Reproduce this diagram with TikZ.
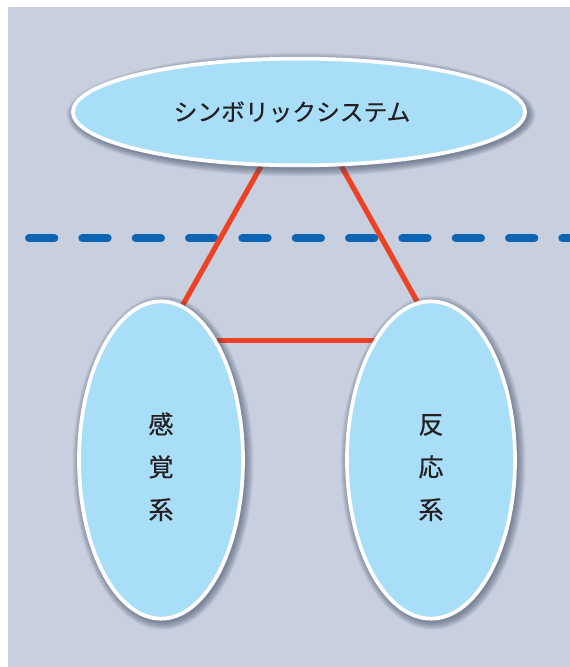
\documentclass[tikz,border=0pt]{standalone}
\usepackage{fontspec}
\newfontfamily\jpfont[FakeBold=0.5]{Noto Sans CJK JP}
\usetikzlibrary{shapes.geometric}
\definecolor{bgcol}{RGB}{200,208,223}
\definecolor{ellfill}{RGB}{169,222,248}
\definecolor{dashblue}{RGB}{12,100,178}
\definecolor{linered}{RGB}{238,66,36}
\definecolor{txtcol}{RGB}{35,31,32}
\definecolor{shadowcol}{RGB}{55,68,92}
\pgfdeclarelayer{bg}
\pgfdeclarelayer{mid}
\pgfdeclarelayer{shade}
\pgfsetlayers{bg,mid,shade,main}
\tikzset{
  oval/.style={ellipse, draw=white, line width=2.8pt, fill=ellfill, inner sep=0pt,
    text=txtcol, font=\jpfont},
  link/.style={draw=linered, line width=3.9pt},
  divider/.style={draw=dashblue, line width=6pt, line cap=round, dash pattern=on 19pt off 21pt}
}
\newcommand{\softshadow}[3]{%
  \foreach \k in {1,...,9}{
    \fill[shadowcol, opacity=0.075] ([xshift=1.5pt,yshift=-2pt]#1) ellipse [x radius={#2+0.7*\k pt}, y radius={#3+0.7*\k pt}];
  }}
\begin{document}
\begin{tikzpicture}[x=0.75pt,y=-0.75pt]
\useasboundingbox (0,0) rectangle (570,667);
\begin{pgfonlayer}{bg}
\fill[white] (0,0) rectangle (570,667);
\fill[bgcol] (8,7) rectangle (570,667);
\end{pgfonlayer}
\node[oval, minimum width=339pt, minimum height=80pt, font=\jpfont\fontsize{17.8}{20}\selectfont] (top) at (299,112) {シンボリックシステム\hspace*{10.5pt}};
\node[oval, minimum width=123pt, minimum height=238pt, align=center, font=\jpfont\fontsize{18.8}{32}\selectfont] (left) at (161,460) {\rule{0pt}{26pt}感\\覚\\系};
\node[oval, minimum width=126pt, minimum height=238pt, align=center, font=\jpfont\fontsize{18.8}{32}\selectfont] (right) at (431,460) {\rule{0pt}{26pt}反\\応\\系};
\coordinate (dl) at (29,238);
\coordinate (dr) at (580,238);
\begin{pgfonlayer}{mid}
\draw[divider] (dl) -- (dr);
\draw[link] (top.235) -- (left.82);
\draw[link] (top.308) -- (right.95);
\draw[link] (left.65) -- (left.65 -| right.115);
\end{pgfonlayer}
\begin{pgfonlayer}{shade}
\softshadow{top.center}{169.5pt}{40pt}
\softshadow{left.center}{61.5pt}{119pt}
\softshadow{right.center}{63pt}{119pt}
\end{pgfonlayer}
\end{tikzpicture}
\end{document}
